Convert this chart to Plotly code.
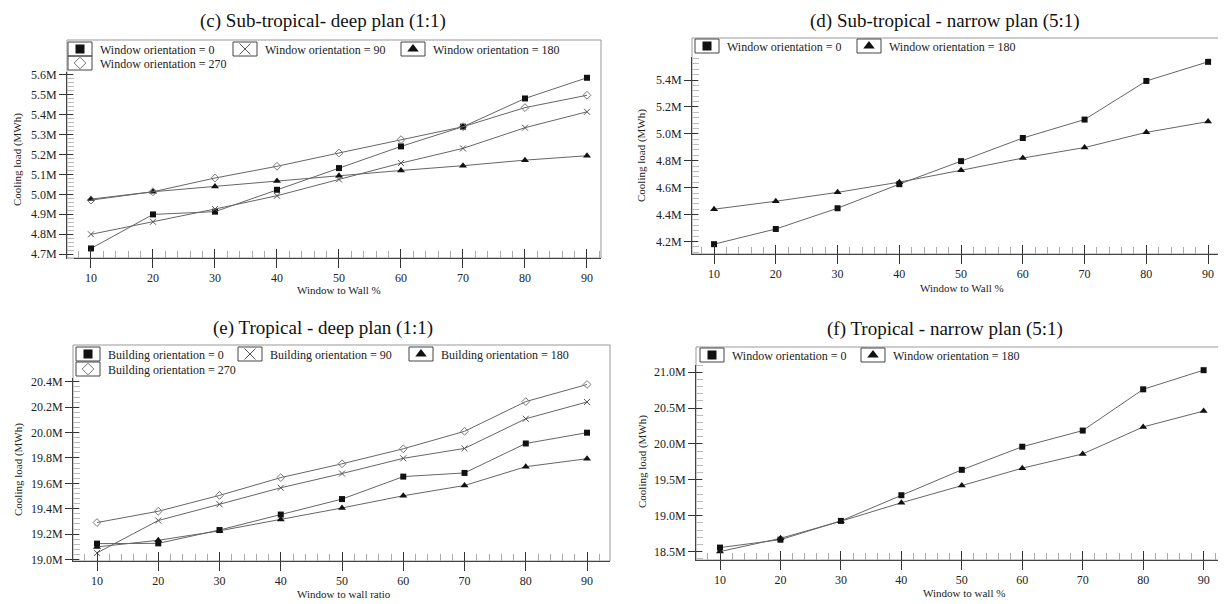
"""Cooling load vs window-to-wall ratio, four climate / plan panels."""

import plotly.graph_objects as go

# the page body keeps its default 8px margin, so the figure is drawn 8px in
OFF = 8
W, H = 1226 - OFF, 604 - OFF
FONT = "Liberation Serif"

# ---- data (cooling load, million MWh) ----
wwr = [10, 20, 30, 40, 50, 60, 70, 80, 90]
x_ticks = [10, 20, 30, 40, 50, 60, 70, 80, 90]

c_orient_0 = [4.728, 4.899, 4.913, 5.023, 5.132, 5.241, 5.340, 5.482, 5.586]
c_orient_90 = [4.799, 4.862, 4.926, 4.993, 5.075, 5.157, 5.231, 5.335, 5.415]
c_orient_180 = [4.976, 5.013, 5.040, 5.067, 5.094, 5.120, 5.144, 5.172, 5.194]
c_orient_270 = [4.971, 5.013, 5.082, 5.141, 5.208, 5.275, 5.340, 5.436, 5.498]

d_orient_0 = [4.180, 4.293, 4.447, 4.626, 4.797, 4.969, 5.106, 5.393, 5.535]
d_orient_180 = [4.440, 4.499, 4.565, 4.641, 4.729, 4.820, 4.898, 5.011, 5.091]

e_orient_0 = [19.125, 19.127, 19.232, 19.354, 19.476, 19.653, 19.682, 19.914, 19.999]
e_orient_90 = [19.052, 19.307, 19.435, 19.565, 19.677, 19.797, 19.875, 20.109, 20.241]
e_orient_180 = [19.099, 19.151, 19.226, 19.315, 19.406, 19.502, 19.583, 19.731, 19.794]
e_orient_270 = [19.291, 19.380, 19.505, 19.645, 19.754, 19.872, 20.010, 20.244, 20.379]

f_orient_0 = [18.555, 18.665, 18.927, 19.285, 19.639, 19.961, 20.186, 20.761, 21.028]
f_orient_180 = [18.500, 18.684, 18.923, 19.180, 19.419, 19.662, 19.860, 20.237, 20.458]

titles = [
    "(c) Sub-tropical- deep plan (1:1)",
    "(d) Sub-tropical - narrow plan (5:1)",
    "(e) Tropical - deep plan (1:1)",
    "(f) Tropical - narrow plan (5:1)",
]
x_titles = ["Window to Wall %", "Window to Wall %", "Window to wall ratio", "Window to wall %"]
y_title = "Cooling load (MWh)"


def px(x):
    return (x - OFF) / W


def py(y):
    return 1 - (y - OFF) / H


# marker styles per orientation (plot marker, legend marker)
STYLE = {
    0: dict(symbol="square", size=6, leg=9, color="#111", line=dict(width=0)),
    90: dict(symbol="x-thin-open", size=6, leg=11, color="#555", line=dict(width=1, color="#555")),
    180: dict(symbol="triangle-up", size=7, leg=10, color="#111", line=dict(width=0)),
    270: dict(symbol="diamond-open", size=6, leg=9, color="#777", line=dict(width=1, color="#777")),
}

# panel layout: frame box, y-axis top (px), axis ranges, y tick step,
# and for each series the centre of its framed legend symbol
panels = [
    dict(box=(67, 40, 601, 258), ytop=72, xr=(6.13, 92.26), yr=(4.680, 5.615), dt=0.1, mdt=0.02,
         label="Window orientation",
         series=[(0, c_orient_0, (80, 49)), (90, c_orient_90, (245, 49)),
                 (180, c_orient_180, (413, 49)), (270, c_orient_270, (80, 63))],
         title=(323, 21), xt=(339, 290), yt=(17, 160)),
    dict(box=(692, 38, 1226, 254), ytop=57, xr=(6.43, 92.9), yr=(4.107, 5.571), dt=0.2, mdt=0.04,
         label="Window orientation",
         series=[(0, d_orient_0, (707, 46)), (180, d_orient_180, (869, 46))],
         title=(945, 21), xt=(962, 288), yt=(642, 156)),
    dict(box=(73, 345, 610, 561), ytop=378, xr=(6.08, 93.75), yr=(18.988, 20.43), dt=0.2, mdt=0.04,
         label="Building orientation",
         series=[(0, e_orient_0, (88, 354)), (90, e_orient_90, (250, 354)),
                 (180, e_orient_180, (421, 354)), (270, e_orient_270, (88, 369))],
         title=(323, 328), xt=(344, 594), yt=(18, 470)),
    dict(box=(696, 347, 1226, 560), ytop=365, xr=(6.03, 93.7), yr=(18.382, 21.10), dt=0.5, mdt=0.1,
         label="Window orientation",
         series=[(0, f_orient_0, (712, 355)), (180, f_orient_180, (873, 355))],
         title=(945, 329), xt=(964, 593), yt=(642, 462)),
]

fig = go.Figure()
layout = dict(
    width=W, height=H,
    margin=dict(l=0, r=0, t=0, b=0, pad=0, autoexpand=False),
    paper_bgcolor="white", plot_bgcolor="white",
    font=dict(family=FONT, size=12, color="#222"),
    showlegend=True,
)
shapes = []
annotations = []
legend_no = 0

for i, p in enumerate(panels):
    n = i + 1
    sx = "" if n == 1 else str(n)
    x0, y0, x1, y1 = p["box"]
    dom_x = [px(x0), px(x1)]
    dom_y = [py(y1), py(p["ytop"])]

    for orient, vals, (cx, cy) in p["series"]:
        st = STYLE[orient]
        name = f"{p['label']} = {orient}"
        fig.add_trace(go.Scatter(
            x=wwr, y=vals, mode="lines+markers", name=name, showlegend=False,
            line=dict(color="#666", width=1),
            marker=dict(symbol=st["symbol"], size=st["size"], color=st["color"], line=st["line"]),
            xaxis=f"x{sx}", yaxis=f"y{sx}",
            hovertemplate="%{x}: %{y:.3f}M<extra></extra>",
        ))

        # one small legend per entry so each sits where the reference has it
        legend_no += 1
        lid = "legend" if legend_no == 1 else f"legend{legend_no}"
        layout[lid] = dict(
            x=px(cx - 20), y=py(cy), xanchor="left", yanchor="middle",
            orientation="h", itemsizing="trace", bgcolor="rgba(0,0,0,0)", borderwidth=0,
            font=dict(family=FONT, size=12, color="#222"),
        )
        fig.add_trace(go.Scatter(
            x=[None], y=[None], mode="markers", name=name, legend=lid,
            marker=dict(symbol=st["symbol"], size=st["leg"], color=st["color"], line=st["line"]),
            xaxis=f"x{sx}", yaxis=f"y{sx}", hoverinfo="skip",
        ))
        # framed box around the legend symbol
        shapes.append(dict(type="rect", xref="paper", yref="paper",
                           x0=px(cx - 12), x1=px(cx + 12), y0=py(cy + 7), y1=py(cy - 7),
                           line=dict(color="#444", width=1)))

    layout[f"xaxis{sx}"] = dict(
        domain=dom_x, anchor=f"y{sx}", range=list(p["xr"]), automargin=False,
        tickmode="array", tickvals=x_ticks, ticks="outside", ticklen=9, tickcolor="#333",
        showline=True, linecolor="#444", linewidth=1, showgrid=False, zeroline=False,
        tickfont=dict(family=FONT, size=12, color="#222"),
        minor=dict(ticks="inside", ticklen=7, tickcolor="#aaa", dtick=2, tick0=10, showgrid=False),
    )
    layout[f"yaxis{sx}"] = dict(
        domain=dom_y, anchor=f"x{sx}", range=list(p["yr"]), automargin=False,
        dtick=p["dt"], tick0=0, tickformat=".1f", ticksuffix="M",
        ticks="outside", ticklen=7, tickcolor="#333",
        showline=True, linecolor="#444", linewidth=1, showgrid=False, zeroline=False,
        tickfont=dict(family=FONT, size=12, color="#222"),
        minor=dict(ticks="inside", ticklen=7, tickcolor="#bbb", dtick=p["mdt"], tick0=0, showgrid=False),
    )
    # overlay axes giving the inner half of the crossing major ticks
    o = str(n + 4)
    layout[f"xaxis{o}"] = dict(
        overlaying=f"x{sx}", anchor=f"y{sx}", range=list(p["xr"]), automargin=False,
        tickmode="array", tickvals=x_ticks, ticks="inside", ticklen=9, tickcolor="#333",
        showticklabels=False, showline=False, showgrid=False, zeroline=False,
    )
    layout[f"yaxis{o}"] = dict(
        overlaying=f"y{sx}", anchor=f"x{sx}", range=list(p["yr"]), automargin=False,
        dtick=p["dt"], tick0=0, ticks="inside", ticklen=6, tickcolor="#333",
        showticklabels=False, showline=False, showgrid=False, zeroline=False,
    )
    fig.add_trace(go.Scatter(x=[], y=[], xaxis=f"x{o}", yaxis=f"y{o}",
                             showlegend=False, hoverinfo="skip"))

    # plot frame (extends above the y axis to hold the legend)
    shapes.append(dict(type="rect", xref="paper", yref="paper",
                       x0=px(x0), x1=px(x1), y0=py(y1), y1=py(y0),
                       line=dict(color="#999", width=1), layer="below"))

    # titles
    tx, ty = p["title"]
    annotations.append(dict(text=titles[i], x=px(tx), y=py(ty), xref="paper", yref="paper",
                            xanchor="center", yanchor="middle", showarrow=False,
                            font=dict(family=FONT, size=19, color="#111")))
    ax_, ay_ = p["xt"]
    annotations.append(dict(text=x_titles[i], x=px(ax_), y=py(ay_), xref="paper", yref="paper",
                            xanchor="center", yanchor="middle", showarrow=False,
                            font=dict(family=FONT, size=11, color="#222")))
    yx_, yy_ = p["yt"]
    annotations.append(dict(text=y_title, x=px(yx_), y=py(yy_), xref="paper", yref="paper",
                            xanchor="center", yanchor="middle", showarrow=False, textangle=-90,
                            font=dict(family=FONT, size=11, color="#222")))

layout["shapes"] = shapes
layout["annotations"] = annotations
fig.update_layout(**layout)
fig.write_html("out.html")
